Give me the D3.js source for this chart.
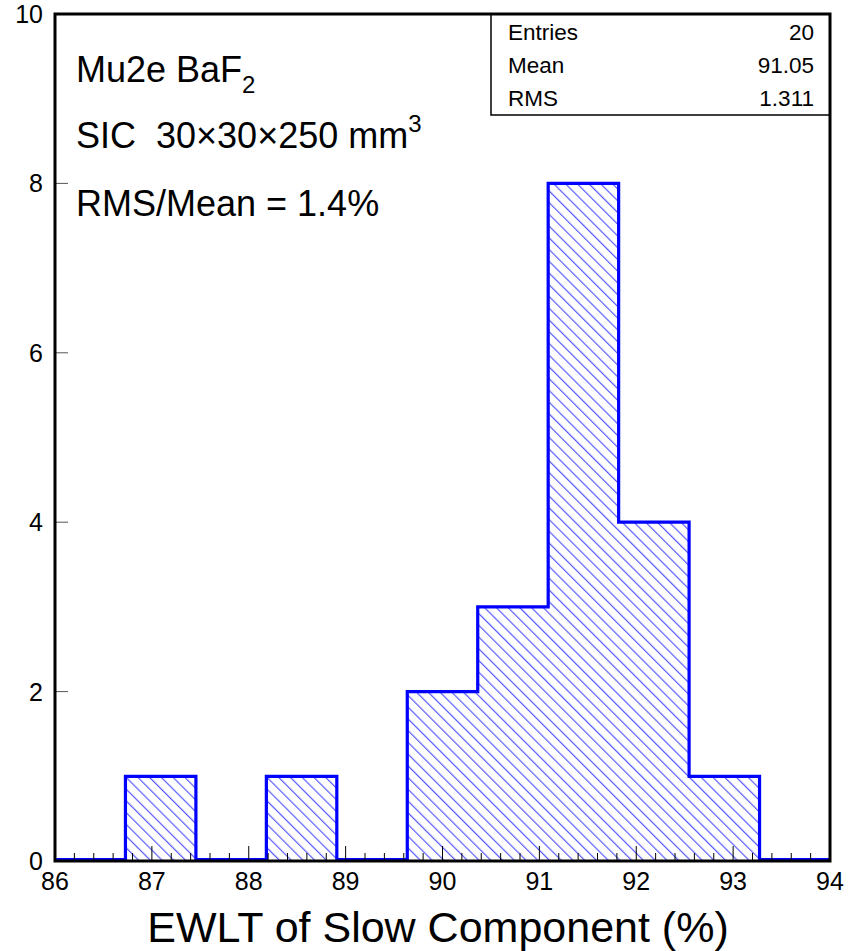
<!DOCTYPE html>
<html><head><meta charset="utf-8">
<script src="https://cdn.jsdelivr.net/npm/d3@7/dist/d3.min.js"></script>
<style>
html,body{margin:0;padding:0;background:#fff;}
svg{display:block;font-family:"Liberation Sans",Arial,Helvetica,sans-serif;}
</style></head>
<body>
<svg id="chart" width="858" height="951"></svg>
<script>
// ---- data ----
const binCounts = [0, 1, 0, 1, 0, 2, 3, 8, 4, 1, 0];
const xRange = [86, 94];
const yRange = [0, 10];
const xTickValues = [86, 87, 88, 89, 90, 91, 92, 93, 94];
const yTickValues = [0, 2, 4, 6, 8, 10];
const statLabels = ["Entries", "Mean", "RMS"];
const statValues = ["20", "91.05", "1.311"];
const xTitle = "EWLT of Slow Component (%)";

// ---- layout ----
const svg = d3.select("#chart");
const L = 55, R = 830, T = 14, B = 861;
const x = d3.scaleLinear().domain(xRange).range([L, R]);
const y = d3.scaleLinear().domain(yRange).range([B, T]);

const nb = binCounts.length;
const bw = (xRange[1] - xRange[0]) / nb;
const edges = d3.range(nb + 1).map(i => xRange[0] + i * bw);

// hatch pattern
const defs = svg.append("defs");
defs.append("pattern")
  .attr("id", "hatch").attr("patternUnits", "userSpaceOnUse")
  .attr("width", 8.3).attr("height", 8.3)
  .attr("patternTransform", "rotate(45)")
  .append("line").attr("x1", 0).attr("y1", 4).attr("x2", 8.3).attr("y2", 4)
  .attr("stroke", "#4a4aff").attr("stroke-width", 1.1);

// histogram path
let d = `M${x(edges[0])},${y(0)}`;
binCounts.forEach((c, i) => {
  d += `V${y(c)}H${x(edges[i + 1])}`;
});
d += `V${y(0)}Z`;
svg.append("path").attr("d", d).attr("fill", "url(#hatch)").attr("stroke", "none");
let outline = `M${x(edges[0])},${y(0) - 1.5}`;
binCounts.forEach((c, i) => {
  const yy = c === 0 ? y(0) - 1.5 : y(c);
  outline += `V${yy}H${x(edges[i + 1])}`;
});
outline += `V${y(0) - 1.5}`;
svg.append("path").attr("d", outline).attr("fill", "none")
  .attr("stroke", "#0000ff").attr("stroke-width", 3.2);

// x ticks (pointing upward)
const minorX = d3.range(xRange[0] * 5, xRange[1] * 5 + 1).map(v => v / 5)
  .filter(v => Math.abs(v - Math.round(v)) > 1e-6);
svg.append("g").selectAll("line.minor").data(minorX).join("line")
  .attr("x1", d => x(d)).attr("x2", d => x(d))
  .attr("y1", B).attr("y2", B - 8)
  .attr("stroke", "#000").attr("stroke-width", 1);
svg.append("g").selectAll("line.major").data(xTickValues).join("line")
  .attr("x1", d => x(d)).attr("x2", d => x(d))
  .attr("y1", B).attr("y2", B - 15)
  .attr("stroke", "#000").attr("stroke-width", 1);
svg.append("g").selectAll("text").data(xTickValues).join("text")
  .attr("x", d => x(d)).attr("y", 890)
  .attr("text-anchor", "middle").attr("font-size", 25).attr("fill", "#000")
  .text(d => d);

// y ticks
svg.append("g").selectAll("line").data(yTickValues).join("line")
  .attr("x1", L).attr("x2", L + 13)
  .attr("y1", d => y(d)).attr("y2", d => y(d))
  .attr("stroke", "#555").attr("stroke-width", 1);
svg.append("g").selectAll("text").data(yTickValues).join("text")
  .attr("x", 43).attr("y", d => y(d) + 9)
  .attr("text-anchor", "end").attr("font-size", 25).attr("fill", "#000")
  .text(d => d);

// frame
svg.append("rect").attr("x", L).attr("y", T).attr("width", R - L).attr("height", B - T)
  .attr("fill", "none").attr("stroke", "#000").attr("stroke-width", 3);

// stats box
const sbL = 491, sbB = 115;
svg.append("path").attr("d", `M${sbL},${T}V${sbB}H${R}`)
  .attr("fill", "none").attr("stroke", "#000").attr("stroke-width", 1.5);
const statBase = [40, 73, 106];
svg.append("g").selectAll("text").data(statLabels).join("text")
  .attr("x", 508).attr("y", (d, i) => statBase[i])
  .attr("font-size", 22.5).attr("fill", "#000").text(d => d);
svg.append("g").selectAll("text").data(statValues).join("text")
  .attr("x", 814).attr("y", (d, i) => statBase[i]).attr("text-anchor", "end")
  .attr("font-size", 22.5).attr("fill", "#000").text(d => d);

// annotations
const t1 = svg.append("text").attr("x", 76).attr("y", 82).attr("font-size", 36).attr("fill", "#000");
t1.append("tspan").text("Mu2e BaF");
t1.append("tspan").attr("font-size", 24).attr("dy", 11).text("2");
const t2 = svg.append("text").attr("x", 76).attr("y", 148).attr("font-size", 36).attr("fill", "#000");
t2.append("tspan").text("SIC\u00A0\u00A030\u00D730\u00D7250 mm");
t2.append("tspan").attr("font-size", 24).attr("dy", -16).text("3");
svg.append("text").attr("x", 76).attr("y", 216).attr("font-size", 36).attr("fill", "#000")
  .text("RMS/Mean = 1.4%");

// x title
svg.append("text").attr("x", 438).attr("y", 942).attr("text-anchor", "middle")
  .attr("font-size", 43).attr("fill", "#000").text(xTitle);
</script>
</body></html>
